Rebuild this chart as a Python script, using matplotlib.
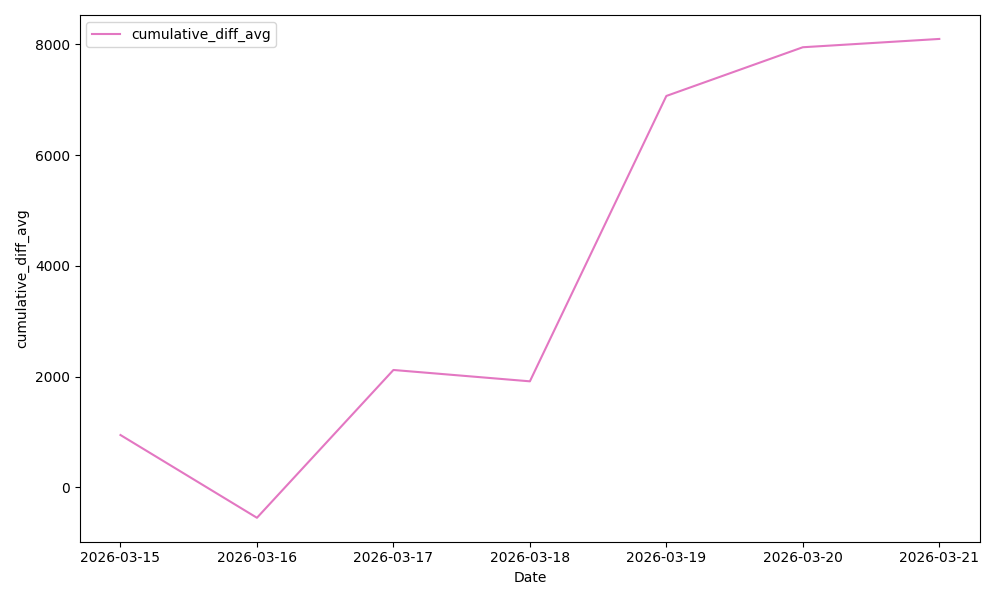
import matplotlib
matplotlib.use("Agg")
import matplotlib.pyplot as plt

dates = ['2026-03-15', '2026-03-16', '2026-03-17', '2026-03-18',
         '2026-03-19', '2026-03-20', '2026-03-21']
cumulative_diff_avg = [945, -550, 2120, 1915, 7070, 7950, 8100]

fig, ax = plt.subplots(figsize=(10, 6), dpi=100)
ax.plot(dates, cumulative_diff_avg, color='#e377c2', label='cumulative_diff_avg')
ax.set_xlabel('Date')
ax.set_ylabel('cumulative_diff_avg')
ax.legend(loc='upper left')
plt.tight_layout()
plt.savefig('out.png')
